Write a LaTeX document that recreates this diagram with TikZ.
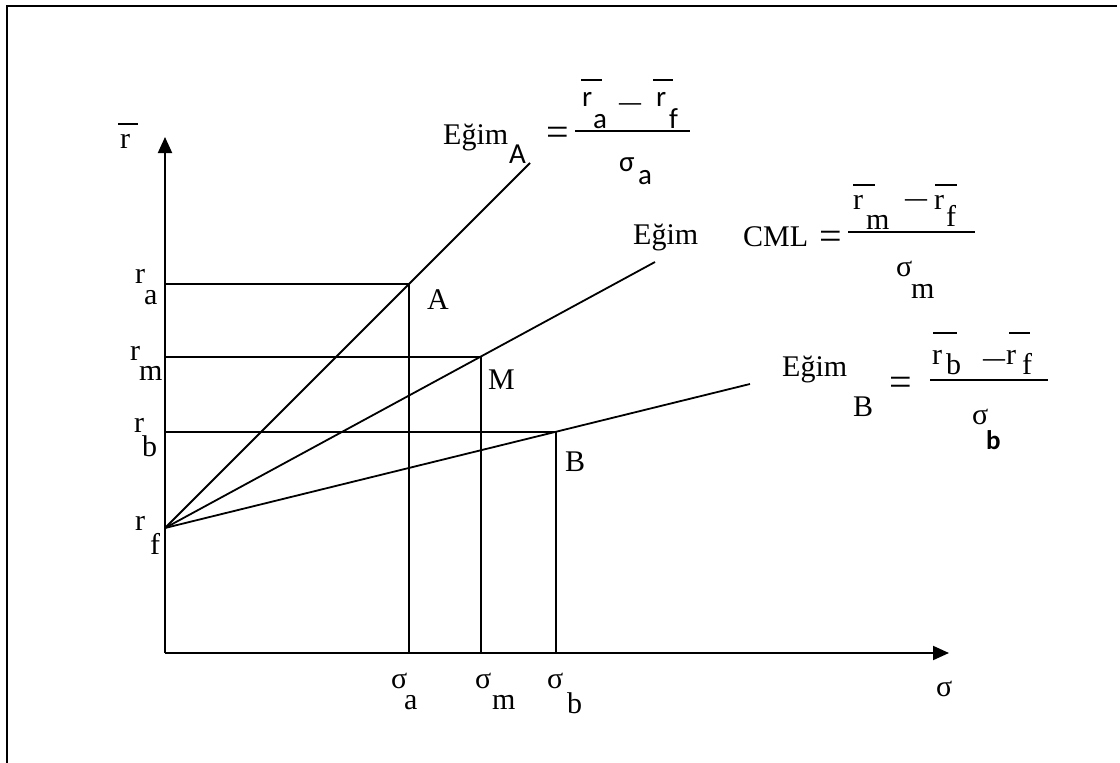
\documentclass[tikz,border=0pt]{standalone}
\usepackage{fontspec}
\setmainfont{Liberation Serif}
\newfontfamily\carl{Carlito}
\usetikzlibrary{arrows.meta}
\tikzset{
  ln/.style={line width=1.8pt},
  ax/.style={line width=2pt,-{Triangle[length=16pt,width=14pt]}},
  frame/.style={line width=2.2pt},
  bar/.style={line width=1.6pt},
  tx/.style={anchor=base west,inner sep=0pt,font=\fontsize{30}{32}\selectfont},
  sx/.style={anchor=base west,inner sep=0pt,font=\carl\fontsize{29}{32}\selectfont},
  eq/.style={anchor=center,inner sep=0pt,font=\fontsize{40}{40}\selectfont},
  mn/.style={anchor=center,inner sep=0pt,font=\bfseries\fontsize{22}{22}\selectfont},
}
\begin{document}
\begin{tikzpicture}[x=1pt,y=-1pt]
\useasboundingbox (0,0) rectangle (1120,763);
% frame
\draw[frame] (7,770) -- (7,6) -- (1117,6);
% key points
\coordinate (O) at (165,653);
\coordinate (ytip) at (165,137);
\coordinate (xtip) at (949,653);
\coordinate (rf) at (165,528);
\coordinate (A) at (409,284);
\coordinate (M) at (481,357);
\coordinate (B) at (556,432);
\coordinate (ya) at (165,284);
\coordinate (ym) at (165,357);
\coordinate (yb) at (165,432);
\coordinate (xa) at (409,653);
\coordinate (xm) at (481,653);
\coordinate (xb) at (556,653);
\coordinate (Aend) at (530,163);
\coordinate (Mend) at (655,262);
\coordinate (Bend) at (750,384);
% axes
\draw[ax] (O) -- (ytip);
\draw[ax] (O) -- (xtip);
% guide lines
\draw[ln] (ya) -- (A) -- (xa);
\draw[ln] (ym) -- (M) -- (xm);
\draw[ln] (yb) -- (B) -- (xb);
% rays
\draw[ln] (rf) -- (Aend);
\draw[ln] (rf) -- (Mend);
\draw[ln] (rf) -- (Bend);
% axis labels
\node[tx] (rbar) at (120,148) {r};
\draw[bar] (118,124) -- (138,124);
\node[tx] (ra1) at (135,283) {r};
\node[tx] (ra2) at (144,304) {a};
\node[tx] (rm1) at (130,360) {r};
\node[tx] (rm2) at (139,380) {m};
\node[tx] (rb1) at (134,432) {r};
\node[tx] (rb2) at (142,456) {b};
\node[tx] (rf1) at (135,530) {r};
\node[tx] (rf2) at (150,554) {f};
\node[tx] (sa1) at (391,688) {σ};
\node[tx] (sa2) at (404,709) {a};
\node[tx] (sm1) at (475,688) {σ};
\node[tx] (sm2) at (492,709) {m};
\node[tx] (sb1) at (547,688) {σ};
\node[tx] (sb2) at (567,713) {b};
\node[tx] (sig) at (936,696) {σ};
% point labels
\node[tx] (lA) at (427,309) {A};
\node[tx] (lM) at (488,389) {M};
\node[tx] (lB) at (565,471) {B};
% formula A
\node[tx] (eA) at (443,144) {Eğim};
\node[sx] (eA2) at (509,163) {A};
\node[eq] (eqA) at (558,136) {=};
\node[sx] (nA1) at (582,106) {r};
\draw[bar] (581,80) -- (602,80);
\node[sx] (nA2) at (593,128) {a};
\node[mn] (mA) at (630,107) {—};
\node[sx] (nA3) at (656,106) {r};
\draw[bar] (653,80) -- (673,80);
\node[sx] (nA4) at (669,128) {f};
\draw[bar] (575,131) -- (690,131);
\node[sx] (dA1) at (619,171) {σ};
\node[sx] (dA2) at (638,184) {a};
% formula CML
\node[tx] (eM) at (633,244) {Eğim};
\node[tx] (cml) at (743,246) {CML};
\node[eq] (eqM) at (831,240) {=};
\node[tx] (nM1) at (853,209) {r};
\draw[bar] (853,185) -- (875,185);
\node[tx] (nM2) at (866,229) {m};
\node[mn] (mM) at (916,203) {—};
\node[tx] (nM3) at (934,209) {r};
\draw[bar] (935,185) -- (957,185);
\node[tx] (nM4) at (946,226) {f};
\draw[bar] (848,232) -- (975,232);
\node[tx] (dM1) at (896,276) {σ};
\node[tx] (dM2) at (911,298) {m};
% formula B
\node[tx] (eB) at (782,376) {Eğim};
\node[tx] (eB2) at (853,416) {B};
\node[eq] (eqB) at (901,386) {=};
\node[tx] (nB1) at (932,364) {r};
\draw[bar] (933,333) -- (957,333);
\node[tx] (nB2) at (946,374) {b};
\node[mn] (mB) at (994,363) {—};
\node[tx] (nB3) at (1006,364) {r};
\draw[bar] (1009,333) -- (1030,333);
\node[tx] (nB4) at (1022,374) {f};
\draw[bar] (930,380) -- (1048,380);
\node[tx] (dB1) at (972,424) {σ};
\node[sx,font=\carl\bfseries\fontsize{27}{30}\selectfont] (dB2) at (986,449) {b};
\end{tikzpicture}
\end{document}
